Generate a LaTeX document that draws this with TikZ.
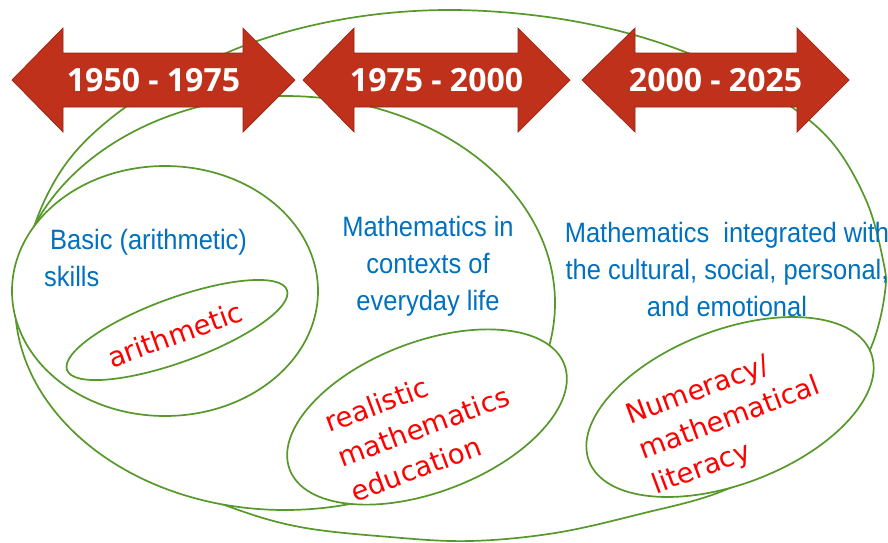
\documentclass[tikz,border=0pt]{standalone}
\usepackage{fontspec}
\usetikzlibrary{shapes.geometric}
\newfontfamily\arrowfont{Open Sans}
\newfontfamily\bluefont{Liberation Sans}[FakeStretch=0.91]
\newfontfamily\redfont{DejaVu Sans}
\definecolor{lgreen}{RGB}{86,152,42}
\definecolor{arrowred}{RGB}{192,49,27}
\definecolor{arrowedge}{RGB}{150,36,20}
\definecolor{tblue}{RGB}{0,112,192}
\definecolor{tred}{RGB}{255,0,0}
\begin{document}
\begin{tikzpicture}[x=1pt,y=-1pt,
  bubble/.style={ellipse, draw=lgreen, line width=1.7pt, fill=white, inner sep=0pt, outer sep=0pt},
  ring/.style={draw=lgreen, line width=1.7pt},
  arrowshape/.style={fill=arrowred, draw=arrowedge, line width=0.7pt, line join=miter},
  yeartext/.style={text=white, font=\arrowfont\bfseries\fontsize{32}{38}\selectfont, inner sep=0pt},
  bluetext/.style={text=tblue, font=\bluefont\fontsize{28}{37}\selectfont, inner sep=0pt},
  redtext/.style={text=tred, font=\redfont\fontsize{27.5}{37}\selectfont, inner sep=0pt}]
\useasboundingbox (0,0) rectangle (888,542);
% outer region
\draw[ring] plot[smooth cycle, tension=0.6] coordinates {
 (444,10) (540,16) (627,33) (705,60) (775,96) (830,140) (866,200) (883,260) (885,292)
 (872,345) (840,405) (790,455) (720,492) (640,514) (555,533) (470,541) (390,537)
 (300,527) (230,507) (160,477) (95,435) (45,375) (22,300) (33,230) (65,165)
 (115,115) (180,75) (260,40) (350,18)};
% nested ellipses
\node[bubble, minimum width=540pt, minimum height=414pt] (e2) at (285,303) {};
\node[bubble, minimum width=306pt, minimum height=250pt] (e3) at (165,291) {};
\node[bubble, minimum width=234pt, minimum height=64pt, rotate=20] (e4) at (177,330) {};
\node[bubble, minimum width=294pt, minimum height=150pt, rotate=21] (e5) at (427,417) {};
\node[bubble, minimum width=302pt, minimum height=154pt, rotate=21] (e6) at (730,407) {};
% period arrows
\path[arrowshape] (12,80) -- (63,28) -- (63,53) -- (243,53) -- (243,28) -- (295,80) -- (243,132) -- (243,107) -- (63,107) -- (63,132) -- cycle;
\path[arrowshape] (303,80) -- (354,28) -- (354,53) -- (518,53) -- (518,28) -- (570,80) -- (518,132) -- (518,107) -- (354,107) -- (354,132) -- cycle;
\path[arrowshape] (582,80) -- (635,28) -- (635,53) -- (797,53) -- (797,28) -- (849,80) -- (797,132) -- (797,107) -- (635,107) -- (635,132) -- cycle;
\node[yeartext] (y1) at (153.5,80) {1950 - 1975};
\node[yeartext] (y2) at (436.5,80) {1975 - 2000};
\node[yeartext] (y3) at (715.5,80) {2000 - 2025};
% blue texts
\node[bluetext, align=left, anchor=north west] (basic) at (44,229.5) {\hspace*{6pt}Basic (arithmetic)\\skills};
\node[bluetext, align=center, anchor=north] (ctx) at (428,216.5) {Mathematics in\\contexts of\\everyday life};
\node[bluetext, align=center, anchor=north] (integ) at (727,222.5) {Mathematics~ integrated with\\the cultural, social, personal,\\and emotional};
% red texts
\node[redtext, rotate=20, anchor=base] (arith) at (178.5,344) {arithmetic};
\node[redtext, rotate=20.5, align=left] (rme) at (423.6,426.3) {realistic\\mathematics\\education};
\node[redtext, rotate=20.5, align=left] (num) at (730,419.5) {Numeracy/\\mathematical\\literacy};
\end{tikzpicture}
\end{document}
